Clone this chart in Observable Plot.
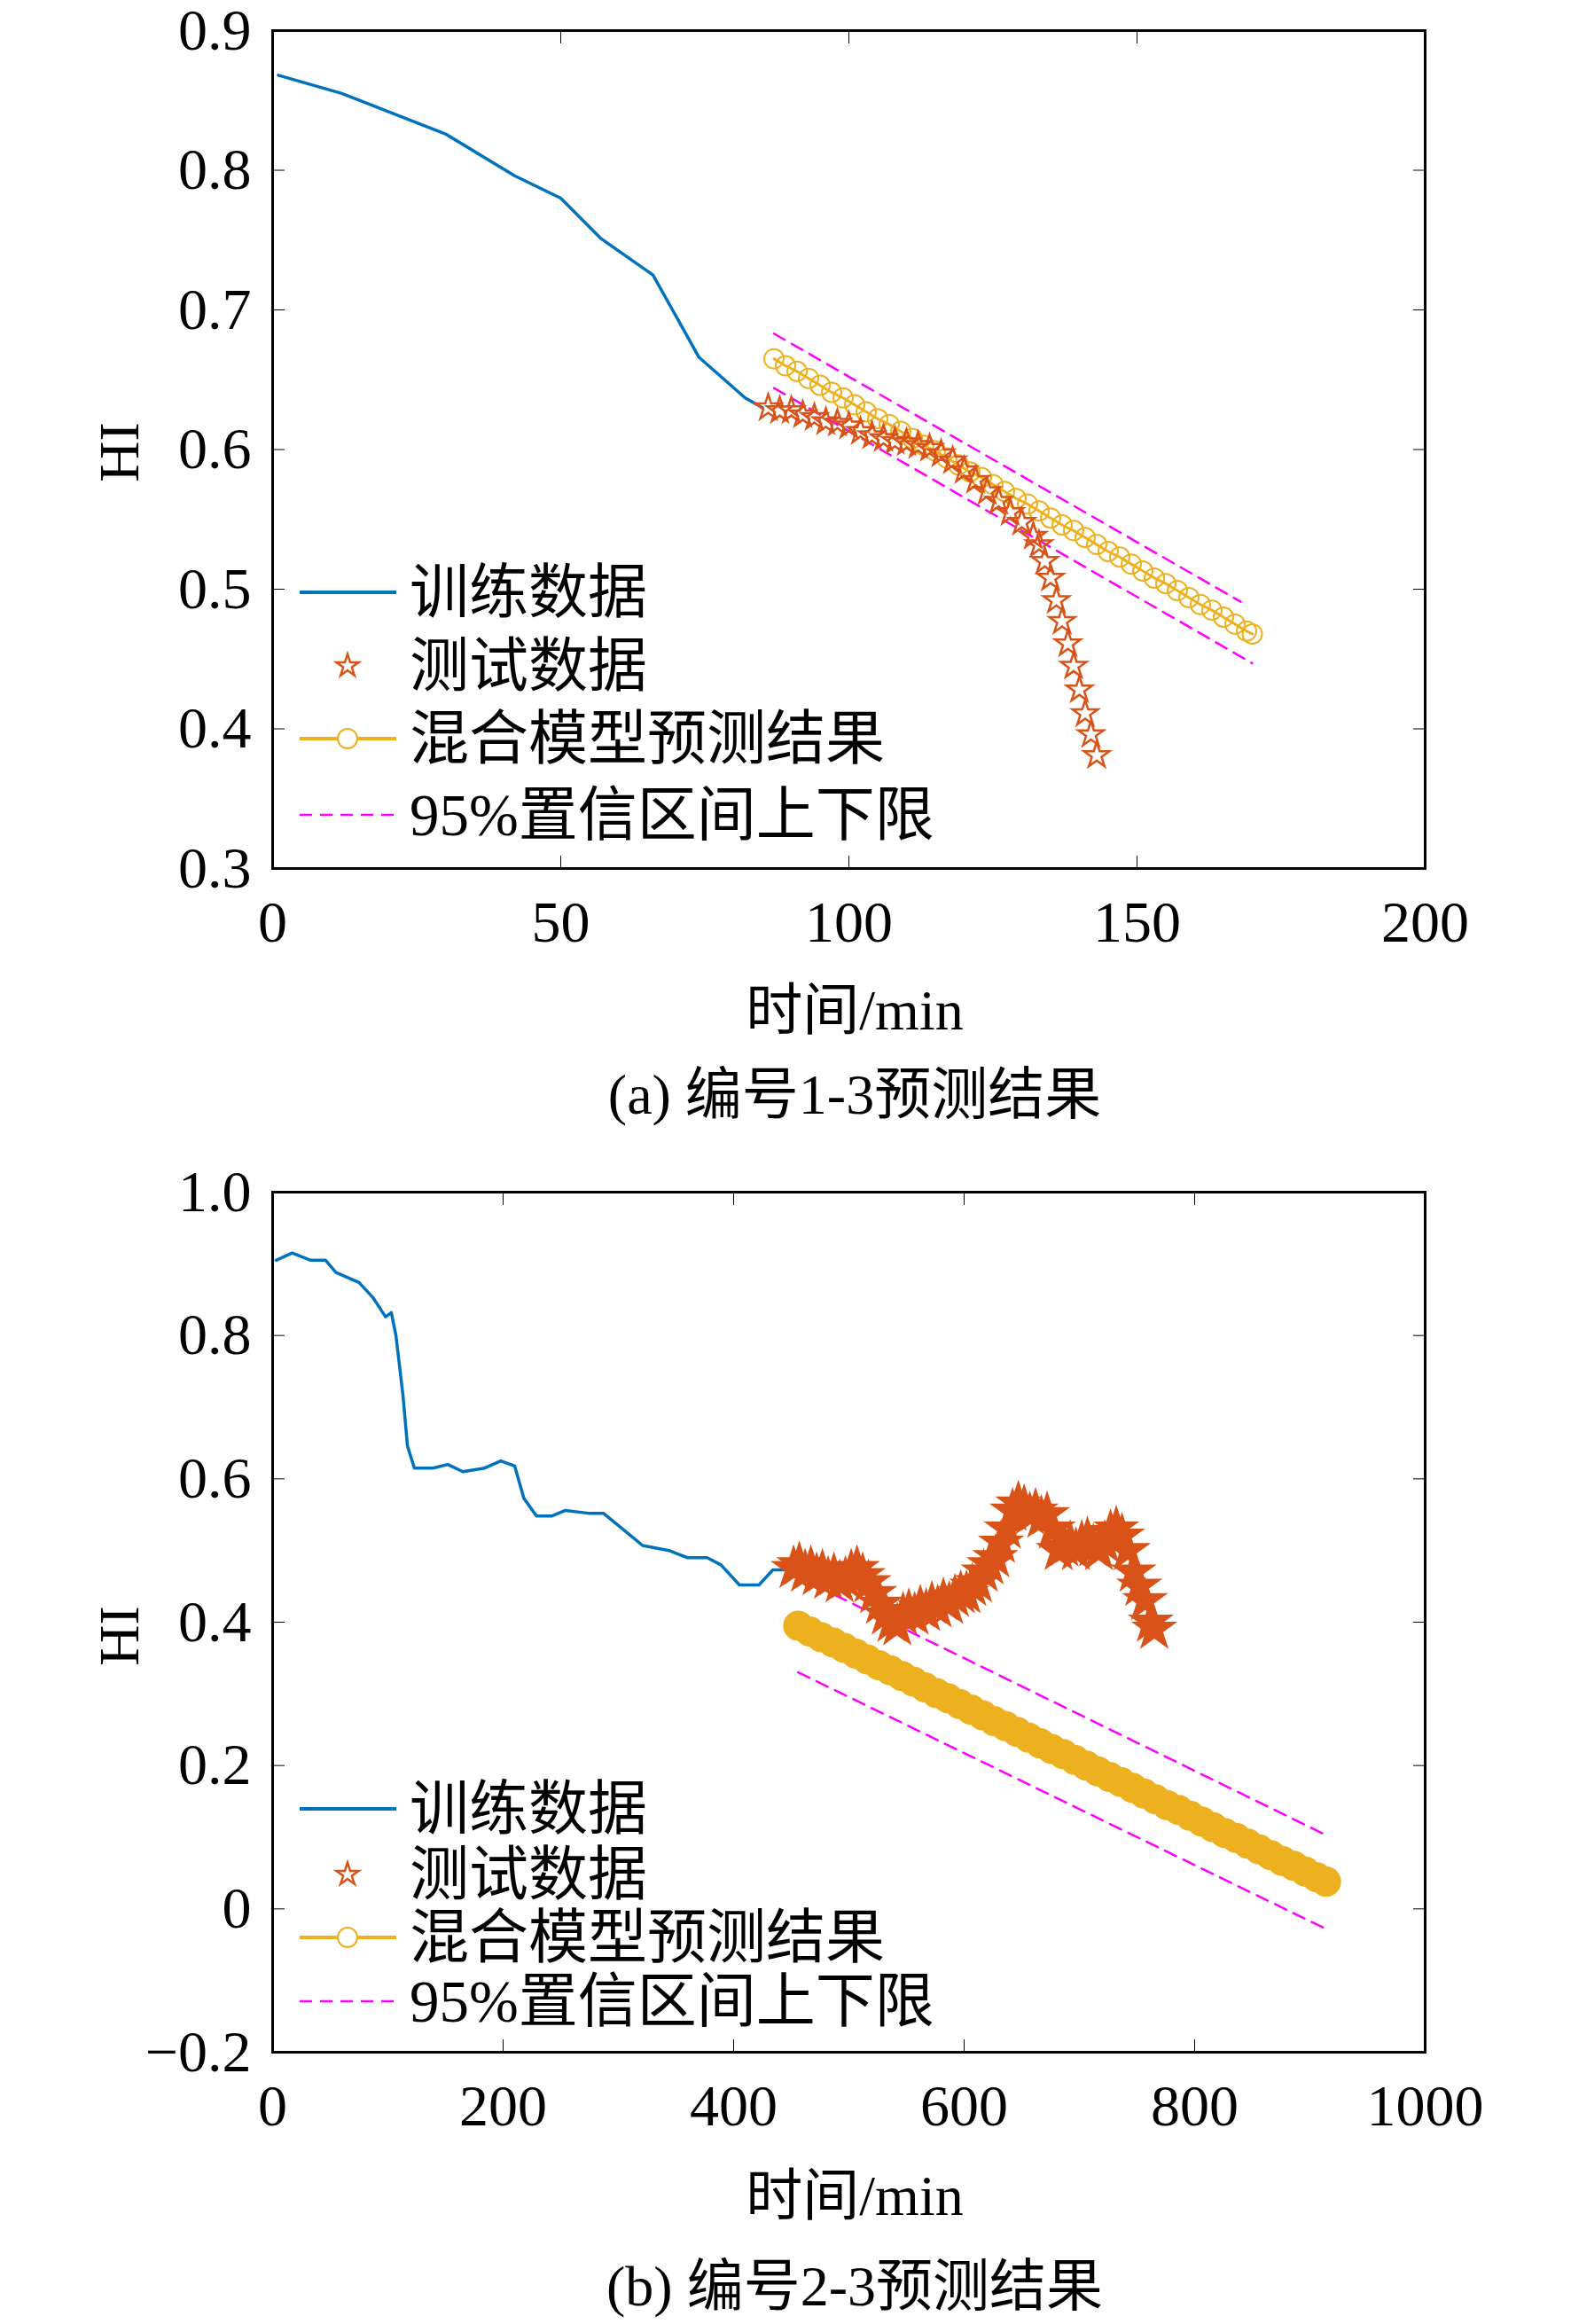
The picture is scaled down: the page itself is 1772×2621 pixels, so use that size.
<!DOCTYPE html>
<html><head><meta charset="utf-8">
<script src="https://cdn.jsdelivr.net/npm/d3@7"></script>
<script src="https://cdn.jsdelivr.net/npm/@observablehq/plot@0.6"></script>
<style>
body{margin:0;background:#fff;width:1772px;height:2621px;position:relative;overflow:hidden;font-family:"Liberation Serif",serif}
.abs{position:absolute}
.lbl{position:absolute;font-family:"Liberation Serif","Noto Sans CJK SC",serif;font-size:64px;color:#000;white-space:nowrap}
</style></head><body>
<div id="a" class="abs" style="left:0;top:0"></div>
<div id="b" class="abs" style="left:0;top:1287px"></div>
<script>
// ---- chart (a) data ----
const aTrainX = [1,12,30,42,50,57,66,74,82,85];
const aTrainY = [0.868,0.855,0.826,0.796,0.780,0.751,0.725,0.666,0.637,0.630];
const aTestX = [86,88,90,92,94,96,98,100,102,104,106,108,110,112,114,116,118,120,122,124,126,128,130,132,133,134,135,136,137,138,139,140,141,142,143];
const aTestY = [0.630,0.628,0.628,0.625,0.623,0.620,0.619,0.617,0.613,0.610,0.608,0.606,0.605,0.603,0.601,0.597,0.592,0.585,0.578,0.570,0.563,0.555,0.548,0.538,0.532,0.520,0.508,0.492,0.477,0.461,0.445,0.428,0.411,0.396,0.381];
const aPredX = [87,89,91,93,95,97,99,101,103,105,107,109,111,113,115,117,119,121,123,125,127,129,131,133,135,137,139,141,143,145,147,149,151,153,155,157,159,161,163,165,167,169,170];
const aPredY = [0.665,0.660,0.656,0.651,0.646,0.641,0.637,0.632,0.627,0.622,0.618,0.613,0.608,0.603,0.599,0.594,0.589,0.584,0.580,0.575,0.570,0.565,0.561,0.556,0.551,0.546,0.542,0.537,0.532,0.527,0.523,0.518,0.513,0.508,0.504,0.499,0.494,0.489,0.485,0.480,0.475,0.470,0.468];
const aUpX = [87,168], aUpY = [0.683,0.491];
const aLoX = [87,170], aLoY = [0.644,0.447];
const aXTicks = [0,50,100,150,200];
const aYTicks = [0.3,0.4,0.5,0.6,0.7,0.8,0.9];

// ---- chart (b) data ----
const bTrainX = [3,17,33,46,55,75,87,98,103,107,113,117,123,139,152,165,184,198,210,218,229,242,254,274,287,306,321,344,360,377,389,405,422,434,451];
const bTrainY = [0.905,0.915,0.905,0.905,0.888,0.874,0.853,0.826,0.832,0.800,0.718,0.646,0.615,0.615,0.620,0.610,0.615,0.625,0.618,0.573,0.548,0.548,0.556,0.552,0.552,0.527,0.507,0.500,0.490,0.490,0.480,0.452,0.452,0.473,0.473];
const bTestX = [452,457,462,467,472,477,482,487,492,497,502,507,512,517,522,527,532,537,542,547,552,557,562,567,572,577,582,587,592,597,602,607,612,617,622,627,632,637,642,647,652,657,662,667,672,677,682,687,692,697,702,707,712,717,722,727,732,737,742,747,752,757,762,765];
const bTestY = [0.475,0.48,0.47,0.475,0.465,0.47,0.46,0.465,0.455,0.46,0.47,0.475,0.465,0.455,0.44,0.425,0.41,0.40,0.395,0.41,0.415,0.41,0.42,0.415,0.425,0.42,0.43,0.425,0.435,0.44,0.44,0.45,0.455,0.47,0.48,0.49,0.51,0.53,0.555,0.565,0.56,0.55,0.555,0.545,0.55,0.53,0.50,0.505,0.51,0.50,0.51,0.515,0.505,0.50,0.51,0.525,0.53,0.52,0.50,0.47,0.45,0.43,0.40,0.39];
const bPredX = [456,466,476,486,496,506,516,526,536,546,556,566,576,586,596,606,616,626,636,646,656,666,676,686,696,706,716,726,736,746,756,766,776,786,796,806,816,826,836,846,856,866,876,886,896,906,914];
const bPredY = [0.395,0.387,0.379,0.372,0.364,0.356,0.348,0.340,0.333,0.325,0.317,0.309,0.301,0.294,0.286,0.278,0.270,0.262,0.255,0.247,0.239,0.231,0.223,0.216,0.208,0.200,0.192,0.184,0.177,0.169,0.161,0.153,0.145,0.138,0.130,0.122,0.114,0.106,0.099,0.091,0.083,0.075,0.067,0.060,0.052,0.044,0.038];
const bUpX = [456,914], bUpY = [0.463,0.103];
const bLoX = [456,914], bLoY = [0.330,-0.028];
const bXTicks = [0,200,400,600,800,1000];
const bYTicks = [-0.2,0,0.2,0.4,0.6,0.8,1.0];

const legendLabels = ["训练数据","测试数据","混合模型预测结果","95%置信区间上下限"];
const C = {blue:"#0072BD", orange:"#D95319", yellow:"#EDB120", mag:"#FF00FF"};

const zip = (xs, ys) => xs.map((x,i)=>({x, y: ys[i]}));

function makeChart(o){
  const train = zip(o.trainX,o.trainY), test = zip(o.testX,o.testY), pred = zip(o.predX,o.predY);
  const up = zip(o.upX,o.upY), lo = zip(o.loX,o.loY);
  const axStyle = {fontSize:66, fontFamily:"Liberation Serif"};
  return Plot.plot({
    width:1772, height:o.height,
    marginLeft:307, marginRight:165, marginTop:o.mt, marginBottom:o.mb,
    style:{fontFamily:"Liberation Serif", fontSize:"66px", background:"#fff", color:"#000"},
    x:{domain:o.xd, ticks:o.xTicks}, y:{domain:o.yd, ticks:o.yTicks},
    marks:[
      Plot.line(up,{x:"x",y:"y",stroke:C.mag,strokeWidth:2.5,strokeDasharray:"14,9"}),
      Plot.line(lo,{x:"x",y:"y",stroke:C.mag,strokeWidth:2.5,strokeDasharray:"14,9"}),
      Plot.line(train,{x:"x",y:"y",stroke:C.blue,strokeWidth:3.5}),
      Plot.line(pred,{x:"x",y:"y",stroke:C.yellow,strokeWidth:o.predW}),
      Plot.dot(pred,{x:"x",y:"y",stroke:C.yellow,r:o.predR,strokeWidth:o.predSW,fill:o.predFill}),
      Plot.dot(test,{x:"x",y:"y",symbol:"star",stroke:C.orange,r:o.starR,strokeWidth:2.5,fill:o.starFill}),
      Plot.frame({stroke:"#000",strokeWidth:3}),
      Plot.axisX({anchor:"bottom",ticks:o.xTicks,tickSize:-14,tickPadding:50,tickFormat:d=>String(d),...axStyle,label:null}),
      Plot.axisX({anchor:"top",ticks:o.xTicks,tickSize:-14,tickFormat:()=>"",label:null}),
      Plot.axisY({anchor:"left",ticks:o.yTicks,tickSize:-14,tickPadding:38,tickFormat:o.yFmt,...axStyle,label:null}),
      Plot.axisY({anchor:"right",ticks:o.yTicks,tickSize:-14,tickFormat:()=>"",label:null})
    ]
  });
}

document.getElementById("a").append(makeChart({
  height:1172, mt:34, mb:193, xd:[0,200], yd:[0.3,0.9], xTicks:aXTicks, yTicks:aYTicks,
  yFmt:d3.format(".1f"), trainX:aTrainX,trainY:aTrainY,testX:aTestX,testY:aTestY,
  predX:aPredX,predY:aPredY,upX:aUpX,upY:aUpY,loX:aLoX,loY:aLoY, predR:11, predSW:2, predW:3, predFill:"none", starR:9, starFill:"none"
}));
document.getElementById("b").append(makeChart({
  height:1321, mt:57, mb:294, xd:[0,1000], yd:[-0.2,1.0], xTicks:bXTicks, yTicks:bYTicks,
  yFmt:d=>Math.abs(d)<1e-9?"0":d3.format(".1f")(d).replace("-","\u2212"),
  trainX:bTrainX,trainY:bTrainY,testX:bTestX,testY:bTestY,
  predX:bPredX,predY:bPredY,upX:bUpX,upY:bUpY,loX:bLoX,loY:bLoY, predR:14, predSW:6, predW:24, predFill:C.yellow, starR:14, starFill:C.orange
}));

function legend(ys){
  const ns="http://www.w3.org/2000/svg";
  const svg=document.createElementNS(ns,"svg");
  svg.setAttribute("width",500);svg.setAttribute("height",2621);
  svg.setAttribute("style","position:absolute;left:0;top:0");
  const mk=(t,a)=>{const e=document.createElementNS(ns,t);for(const k in a)e.setAttribute(k,a[k]);svg.append(e);return e;};
  mk("line",{x1:338,x2:447,y1:ys[0],y2:ys[0],stroke:C.blue,"stroke-width":4});
  mk("path",{d:d3.symbol(d3.symbolStar,200)(),transform:`translate(392,${ys[1]})`,fill:"none",stroke:C.orange,"stroke-width":2.5});
  mk("line",{x1:338,x2:447,y1:ys[2],y2:ys[2],stroke:C.yellow,"stroke-width":4});
  mk("circle",{cx:392,cy:ys[2],r:11,fill:"#fff",stroke:C.yellow,"stroke-width":2});
  mk("line",{x1:338,x2:447,y1:ys[3],y2:ys[3],stroke:C.mag,"stroke-width":2.5,"stroke-dasharray":"14,9"});
  document.body.append(svg);
  ys.forEach((y,i)=>{
    const d=document.createElement("div");d.className="lbl";d.textContent=legendLabels[i];
    d.style.left="462px";d.style.top=(y-42)+"px";d.style.fontSize="67px";d.style.lineHeight="84px";
    document.body.append(d);
  });
}
legend([668,751,833,919]);
legend([2040,2114,2185,2257]);

function text(t,x,y,extra){
  const d=document.createElement("div");d.className="lbl";d.textContent=t;
  d.style.left=x+"px";d.style.top=y+"px";d.style.transform="translate(-50%,-50%)"+(extra||"");
  document.body.append(d);
}
text("时间/min",964,1133);
text("(a) 编号1-3预测结果",964,1228);
text("HI",135,510," rotate(-90deg)");
text("时间/min",964,2470);
text("(b) 编号2-3预测结果",964,2572);
text("HI",135,1845," rotate(-90deg)");
</script>
</body></html>
